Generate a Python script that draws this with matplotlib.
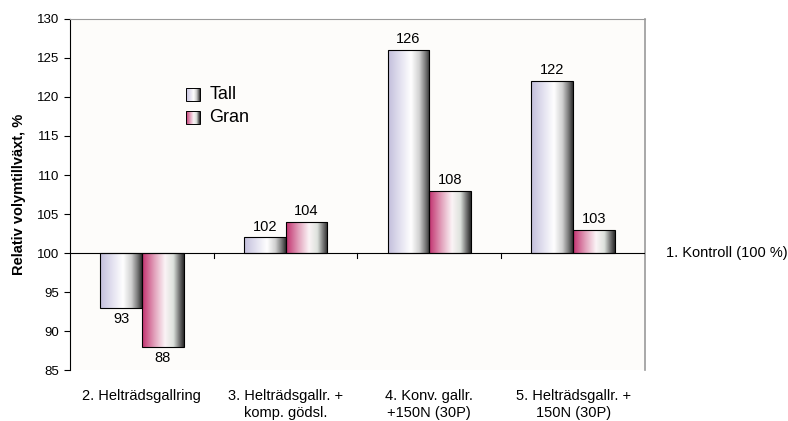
import numpy as np
import matplotlib
matplotlib.use("Agg")
import matplotlib.pyplot as plt
from matplotlib.colors import LinearSegmentedColormap
from matplotlib.patches import Rectangle

plt.rcParams['font.family'] = ['Liberation Sans', 'DejaVu Sans']

# ── data ──
categories = ['2. Helträdsgallring', '3. Helträdsgallr. +\nkomp. gödsl.',
              '4. Konv. gallr.\n+150N (30P)', '5. Helträdsgallr. +\n150N (30P)']
tall = [93, 102, 126, 122]
gran = [88, 104, 108, 103]
baseline = 100

# horizontal shading like the old spreadsheet bars
cmap_tall = LinearSegmentedColormap.from_list('tall', [
    (0.0, '#c2bedb'), (0.3, '#e4e2f0'), (0.55, '#ffffff'),
    (0.75, '#d0d0d0'), (0.9, '#777777'), (1.0, '#2e2e2e')])
cmap_gran = LinearSegmentedColormap.from_list('gran', [
    (0.0, '#c2306e'), (0.3, '#e2a2bc'), (0.55, '#fbf4f6'),
    (0.75, '#dde2dd'), (0.9, '#6e6e6e'), (1.0, '#282828')])

fig = plt.figure(figsize=(7.88, 4.21), dpi=100)
ax = fig.add_axes([0.0888, 0.1211, 0.7297, 0.8338])
ax.set_facecolor('#fdfcfa')

x = np.arange(len(categories))
w = 0.29
grad = np.linspace(0, 1, 256).reshape(1, -1)


def shaded_bar(xl, val, cmap):
    lo, hi = min(val, baseline), max(val, baseline)
    rect = Rectangle((xl, lo), w, hi - lo, facecolor='none',
                     edgecolor='black', lw=0.8, zorder=3)
    ax.add_patch(rect)
    im = ax.imshow(grad, cmap=cmap, aspect='auto', extent=(xl, xl + w, lo, hi),
                   zorder=2, interpolation='bicubic')
    im.set_clip_path(rect)


for i in range(len(categories)):
    shaded_bar(x[i] - w, tall[i], cmap_tall)
    shaded_bar(x[i], gran[i], cmap_gran)
    for xv, v in ((x[i] - w / 2, tall[i]), (x[i] + w / 2, gran[i])):
        if v >= baseline:
            ax.text(xv, v + 0.5, str(v), ha='center', va='bottom', fontsize=10.5)
        else:
            ax.text(xv, v - 0.5, str(v), ha='center', va='top', fontsize=10.5)

ax.set_xlim(-0.5, len(categories) - 0.5)
ax.set_ylim(85, 130)
ax.set_yticks(np.arange(85, 131, 5))
ax.tick_params(axis='y', labelsize=9.5, length=4, width=0.8)
ax.set_xticks([])

# category axis sits at the 100 % line
ax.axhline(baseline, color='black', lw=0.8, zorder=4)
for b in np.arange(0.5, len(categories) - 0.5, 1.0):
    ax.plot([b, b], [baseline, baseline - 0.6], color='black', lw=0.8, zorder=4)
for i, c in enumerate(categories):
    ax.text(x[i], 82.6, c, ha='center', va='top', fontsize=10.5, linespacing=1.3)

ax.spines['bottom'].set_visible(False)
ax.spines['left'].set_color('black')
ax.spines['top'].set_color('#9a9a9a')
ax.spines['right'].set_color('#9a9a9a')
ax.spines['top'].set_linewidth(0.8)
ax.spines['right'].set_linewidth(1.2)

ax.text(1.037, (baseline - 85) / 45, '1. Kontroll (100 %)', transform=ax.transAxes,
        ha='left', va='center', fontsize=10.5)
ax.set_ylabel('Relativ volymtillväxt, %', fontsize=10.5, fontweight='bold', labelpad=8)

# legend with small shaded swatches
for k, (lab, cm) in enumerate((('Tall', cmap_tall), ('Gran', cmap_gran))):
    yy = 120.3 - k * 2.95
    sw = Rectangle((0.31, yy - 0.85), 0.095, 1.7, facecolor='none',
                   edgecolor='black', lw=0.7, zorder=3)
    ax.add_patch(sw)
    im = ax.imshow(grad, cmap=cm, aspect='auto', extent=(0.31, 0.405, yy - 0.85, yy + 0.85),
                   zorder=2)
    im.set_clip_path(sw)
    ax.text(0.47, yy, lab, ha='left', va='center', fontsize=13)

ax.set_xlim(-0.5, len(categories) - 0.5)
ax.set_ylim(85, 130)

fig.savefig('out.png', dpi=100)
